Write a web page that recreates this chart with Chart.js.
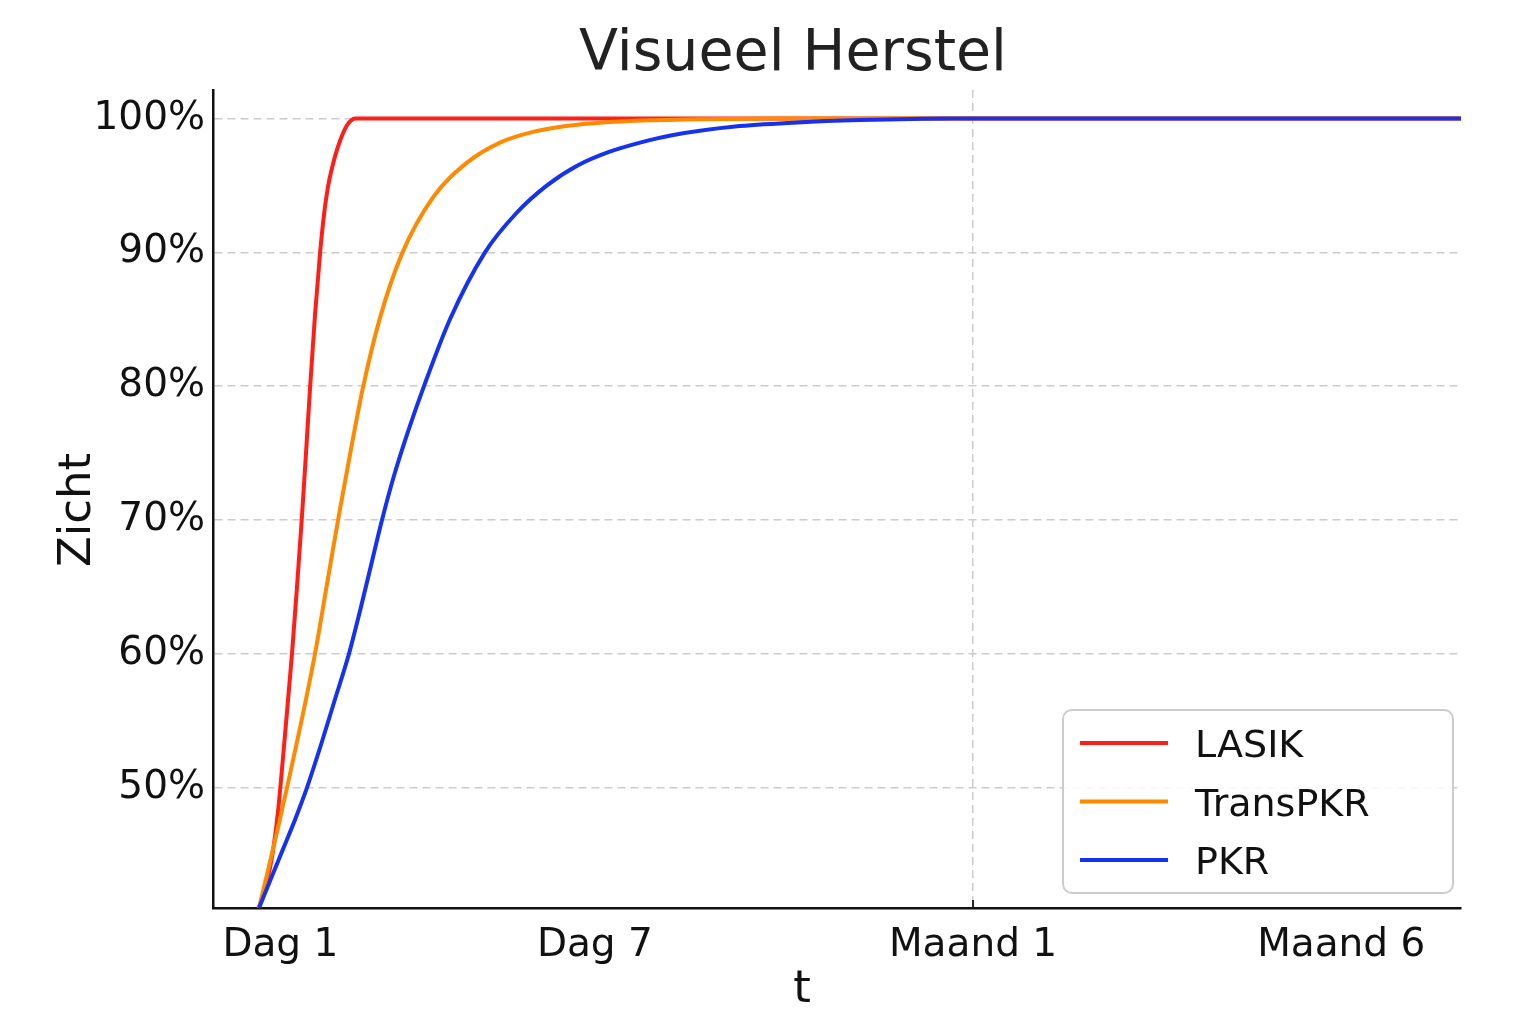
<!DOCTYPE html>
<html><head><meta charset="utf-8">
<script src="https://cdn.jsdelivr.net/npm/chart.js@4"></script>
<style>html,body{margin:0;padding:0;background:#fff}</style>
</head><body>
<canvas id="c" width="1536" height="1024" style="width:1536px;height:1024px"></canvas>
<script>
const chartTitle = 'Visueel Herstel';
const xAxisTitle = 't';
const yAxisTitle = 'Zicht';
const seriesNames = ['LASIK', 'TransPKR', 'PKR'];
const seriesColors = ['#ff1f17', '#ff8a00', '#1432f0'];
const xTickValues = [5.4, 30.6, 60.9, 90.4];
const xTickLabels = ['Dag 1', 'Dag 7', 'Maand 1', 'Maand 6'];
const xGridLabel = 'Maand 1';
const yTickValues = [50, 60, 70, 80, 90, 100];

const lasikX = [3.686, 4.167, 4.567, 4.888, 5.208, 5.529, 5.849, 6.330, 6.731, 7.131, 7.452, 7.772, 8.173, 8.574, 8.894, 9.215, 9.615, 10.016, 10.417, 10.737, 11.058, 11.378, 12.58, 100];
const lasikY = [41.0, 42.5, 44.0, 45.8, 48.2, 51.4, 54.8, 60.0, 65.0, 70.3, 75.0, 79.8, 85.3, 89.9, 92.8, 94.9, 96.6, 97.9, 98.9, 99.5, 99.85, 100, 100, 100];

const transX = [3.686, 4.407, 5.208, 5.929, 7.051, 8.173, 9.135, 10.096, 11.058, 12.019, 13.381, 15.144, 17.628, 20.353, 22.997, 25.641, 28.285, 31.010, 35.016, 39.022, 45.433, 100];
const transY = [41.0, 43.8, 47.0, 50.0, 54.8, 60.0, 65.2, 70.4, 75.3, 79.9, 85.1, 89.9, 94.1, 96.7, 98.2, 99.0, 99.44, 99.69, 99.87, 99.95, 100, 100];

const pkrX = [3.686, 4.647, 5.609, 6.571, 7.532, 8.654, 9.776, 10.897, 11.779, 12.660, 13.542, 14.503, 15.625, 16.907, 18.990, 21.795, 24.279, 26.763, 29.247, 31.731, 34.215, 36.779, 41.827, 46.795, 51.843, 59.054, 100];
const pkrY = [41.0, 43.2, 45.4, 47.6, 50.0, 53.2, 56.6, 60.0, 63.2, 66.6, 70.0, 73.3, 76.6, 80.0, 85.0, 90.0, 92.9, 95.0, 96.5, 97.5, 98.2, 98.75, 99.4, 99.7, 99.88, 100, 100];

const xMin = 0, xMax = 100;
const yMin = 41.0, yMax = 102.13;

function pts(xs, ys) { return xs.map((x, i) => ({ x: x, y: ys[i] })); }
const seriesData = [pts(lasikX, lasikY), pts(transX, transY), pts(pkrX, pkrY)];

const FONT = "'DejaVu Sans', sans-serif";

const decorPlugin = {
  id: 'decor',
  afterDraw(chart) {
    const ctx = chart.ctx;
    const ca = chart.chartArea;
    const xs = chart.scales.x;
    ctx.save();
    const gi = xTickLabels.indexOf(xGridLabel);
    const gx = xs.getPixelForValue(xTickValues[gi]);
    ctx.strokeStyle = '#222';
    ctx.lineWidth = 2;
    ctx.beginPath(); ctx.moveTo(gx, ca.bottom); ctx.lineTo(gx, ca.bottom - 8); ctx.stroke();

    ctx.fillStyle = '#222';
    ctx.font = '57px ' + FONT;
    ctx.textAlign = 'center';
    ctx.textBaseline = 'alphabetic';
    ctx.fillText(chartTitle, ca.left + 580, 70);

    ctx.fillStyle = '#111';
    ctx.font = '45px ' + FONT;
    ctx.fillText(xAxisTitle, ca.left + 589, 1002);
    ctx.save();
    ctx.translate(90, 510);
    ctx.rotate(-Math.PI / 2);
    ctx.fillText(yAxisTitle, 0, 0);
    ctx.restore();

    const bw = 390, bh = 183;
    const bx = ca.right - 8 - bw, by = ca.bottom - 15 - bh;
    const r = 9;
    ctx.beginPath();
    ctx.moveTo(bx + r, by);
    ctx.arcTo(bx + bw, by, bx + bw, by + bh, r);
    ctx.arcTo(bx + bw, by + bh, bx, by + bh, r);
    ctx.arcTo(bx, by + bh, bx, by, r);
    ctx.arcTo(bx, by, bx + bw, by, r);
    ctx.closePath();
    ctx.fillStyle = 'rgba(255,255,255,0.85)';
    ctx.fill();
    ctx.strokeStyle = '#cccccc';
    ctx.lineWidth = 2;
    ctx.stroke();
    ctx.font = '38px ' + FONT;
    ctx.textAlign = 'left';
    ctx.textBaseline = 'alphabetic';
    chart.data.datasets.forEach((ds, i) => {
      const cy = by + 33 + i * 58.5;
      ctx.strokeStyle = ds.borderColor;
      ctx.lineWidth = 4;
      ctx.beginPath(); ctx.moveTo(bx + 17, cy); ctx.lineTo(bx + 105, cy); ctx.stroke();
      ctx.fillStyle = '#111';
      ctx.fillText(ds.label, bx + 132, cy + 14);
    });
    ctx.restore();
  }
};

new Chart(document.getElementById('c'), {
  type: 'line',
  data: {
    datasets: seriesNames.map((n, i) => ({
      label: n,
      data: seriesData[i],
      borderColor: seriesColors[i],
      backgroundColor: seriesColors[i],
      borderWidth: 4,
      pointRadius: 0,
      fill: false,
      cubicInterpolationMode: 'monotone',
      order: seriesNames.length - i
    }))
  },
  options: {
    responsive: false,
    animation: false,
    devicePixelRatio: 1,
    layout: { padding: { left: 0, top: 90, right: 75, bottom: 0 } },
    plugins: { legend: { display: false }, title: { display: false }, tooltip: { enabled: false } },
    scales: {
      x: {
        type: 'linear',
        min: xMin, max: xMax,
        afterFit: s => { s.height = 116; },
        afterBuildTicks: s => { s.ticks = xTickValues.map(v => ({ value: v })); },
        ticks: {
          autoSkip: false, maxRotation: 0, padding: 14,
          color: '#111',
          font: { family: FONT, size: 39 },
          callback: (v, i) => xTickLabels[i]
        },
        grid: {
          drawTicks: false,
          lineWidth: 1.5,
          color: c => (c.tick && xTickLabels[c.index] === xGridLabel) ? '#cccccc' : 'rgba(0,0,0,0)'
        },
        border: { display: true, color: '#111', width: 2.5, dash: [8, 5] }
      },
      y: {
        type: 'linear',
        min: yMin, max: yMax,
        afterFit: s => { s.width = 213; },
        afterBuildTicks: s => { s.ticks = yTickValues.map(v => ({ value: v })); },
        ticks: {
          padding: 8,
          color: '#111',
          font: { family: FONT, size: 39 },
          callback: v => v + '%'
        },
        grid: { drawTicks: false, lineWidth: 1.5, color: '#cccccc' },
        border: { display: true, color: '#111', width: 2.5, dash: [8, 5] }
      }
    }
  },
  plugins: [decorPlugin]
});
</script>
</body></html>
